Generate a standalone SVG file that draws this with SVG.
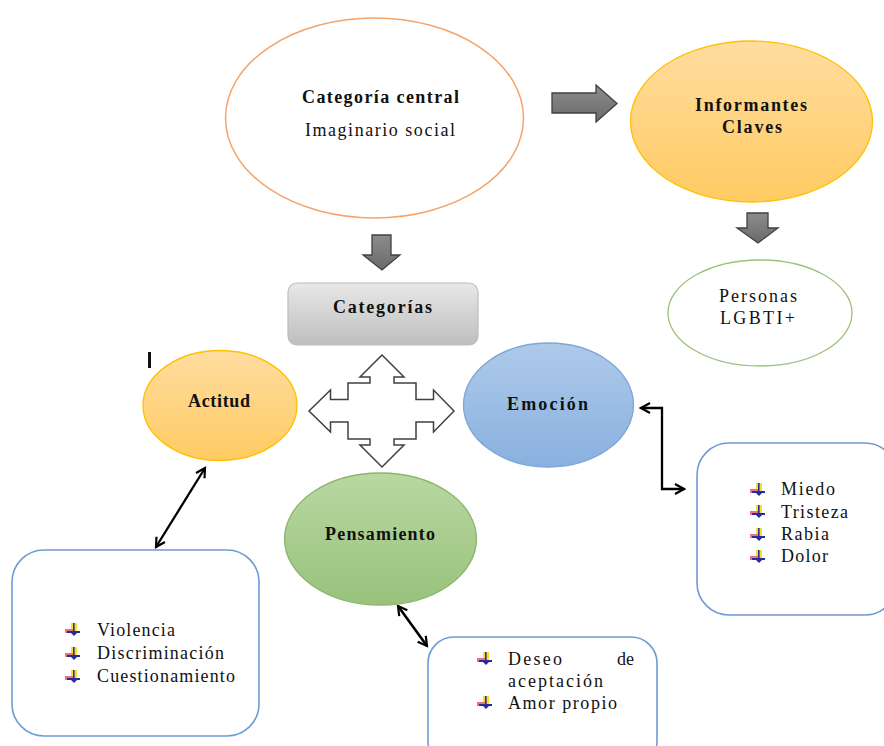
<svg xmlns="http://www.w3.org/2000/svg" width="884" height="746" viewBox="0 0 884 746">
<style>
.t{font-family:"Liberation Serif","Times New Roman",serif;fill:#111;}
.b{font-weight:bold;font-size:18px;}
.r{font-size:18px;}
.blk{fill:url(#gGray);stroke:#404040;stroke-width:1.3;}
.con{fill:none;stroke:#000;stroke-width:2.3;marker-start:url(#ah);marker-end:url(#ah);}
.box{fill:#fff;stroke:#6F9AD4;stroke-width:1.6;}
</style>
<defs>
<linearGradient id="gOr" x1="0" y1="0" x2="0" y2="1"><stop offset="0" stop-color="#FFDDA0"/><stop offset="1" stop-color="#FFCB62"/></linearGradient>
<linearGradient id="gBl" x1="0" y1="0" x2="0" y2="1"><stop offset="0" stop-color="#AECAEA"/><stop offset="1" stop-color="#89B0DF"/></linearGradient>
<linearGradient id="gGr" x1="0" y1="0" x2="0" y2="1"><stop offset="0" stop-color="#B9D8A2"/><stop offset="1" stop-color="#98C27C"/></linearGradient>
<linearGradient id="gBox" x1="0" y1="0" x2="0" y2="1"><stop offset="0" stop-color="#E8E8E8"/><stop offset="1" stop-color="#BEBEBE"/></linearGradient>
<linearGradient id="gGray" x1="0" y1="0" x2="0" y2="1"><stop offset="0" stop-color="#8C8C8C"/><stop offset="1" stop-color="#6A6A6A"/></linearGradient>
<marker id="ah" viewBox="0 0 12 12" refX="10" refY="6" markerWidth="12" markerHeight="12" markerUnits="userSpaceOnUse" orient="auto-start-reverse">
<path d="M1,1 L10,6 L1,11" fill="none" stroke="#000" stroke-width="2.2"/>
</marker>
<symbol id="bul" viewBox="0 0 16 14" width="16" height="14">
<rect x="6" y="0" width="6" height="8" fill="#F2E12A"/>
<rect x="0" y="6" width="8" height="4" fill="#F07080"/>
<rect x="8" y="0" width="1.6" height="9" fill="#2A2A9A"/>
<rect x="2" y="8" width="13" height="2" fill="#2A2A9A"/>
<path d="M5,9 L13,9 L9,13 Z" fill="#2A2A9A"/>
</symbol>
</defs>

<g id="connectors">
<polygon class="blk" points="552,93 596,93 596,85 617,103.5 596,122 596,113 552,113"/>
<polygon class="blk" points="372,235 391,235 391,255 400,255 382,270 363,255 372,255"/>
<polygon class="blk" points="747,213 768,213 768,228 778,228 758,243 737,228 747,228"/>
<path class="con" d="M205,468 L156,547"/>
<path class="con" d="M641,408 H662 V489 H684"/>
<path class="con" style="stroke-width:2.6" d="M398,606 L427,646"/>
</g>

<g id="central">
<ellipse cx="374.5" cy="118" rx="149" ry="100" fill="#fff" stroke="#F4A46A" stroke-width="1.5"/>
<text class="t b" x="302" y="103" textLength="157" lengthAdjust="spacing">Categoría central</text>
<text class="t r" x="305" y="136" textLength="150" lengthAdjust="spacing">Imaginario social</text>
</g>

<g id="informantes">
<ellipse cx="751.5" cy="121.5" rx="121" ry="80.5" fill="url(#gOr)" stroke="#FFC000" stroke-width="1.3"/>
<text class="t b" x="695" y="111" textLength="112" lengthAdjust="spacing">Informantes</text>
<text class="t b" x="722" y="133" textLength="60" lengthAdjust="spacing">Claves</text>
</g>

<g id="personas">
<ellipse cx="760" cy="313" rx="92" ry="53" fill="#fff" stroke="#9BC27A" stroke-width="1.3"/>
<text class="t r" x="719" y="302" textLength="78" lengthAdjust="spacing">Personas</text>
<text class="t r" x="720" y="324" textLength="75" lengthAdjust="spacing">LGBTI+</text>
</g>

<g id="categorias">
<rect x="288" y="283" width="190" height="62" rx="9" fill="url(#gBox)" stroke="#BDBDBD" stroke-width="1.2"/>
<text class="t b" x="333" y="313" textLength="99" lengthAdjust="spacing">Categorías</text>
</g>

<g id="quad-arrow">
<polygon fill="#fff" stroke="#404040" stroke-width="1.5" stroke-linejoin="miter" points="382,355 404,377 394,377 394,383 416,383 416,399.5 433.5,399.5 433.5,390 454,411 433.5,432 433.5,422 416,422 416,439 394,439 394,445 404,445 382,467 360,445 370,445 370,439 348,439 348,422 330.5,422 330.5,432 309,411 330.5,390 330.5,399.5 348,399.5 348,383 370,383 370,377 360,377"/>
</g>

<g id="cursor">
<rect x="148" y="352" width="3" height="16" fill="#111"/>
</g>

<g id="actitud">
<ellipse cx="220" cy="405.5" rx="77" ry="55" fill="url(#gOr)" stroke="#FFC000" stroke-width="1.3"/>
<text class="t b" x="188" y="407" textLength="62" lengthAdjust="spacing">Actitud</text>
</g>

<g id="emocion">
<ellipse cx="548.5" cy="405" rx="85" ry="62" fill="url(#gBl)" stroke="#7EA6D6" stroke-width="1.3"/>
<text class="t b" x="507" y="410" textLength="81" lengthAdjust="spacing">Emoción</text>
</g>

<g id="pensamiento">
<ellipse cx="380.5" cy="539" rx="96" ry="66" fill="url(#gGr)" stroke="#8AB56A" stroke-width="1.3"/>
<text class="t b" x="325" y="540" textLength="110" lengthAdjust="spacing">Pensamiento</text>
</g>

<g id="actitud-list">
<rect class="box" x="12" y="550" width="247" height="186" rx="32"/>
<use href="#bul" x="65" y="623"/>
<use href="#bul" x="65" y="647"/>
<use href="#bul" x="65" y="670"/>
<text class="t r" x="97" y="636" textLength="78" lengthAdjust="spacing">Violencia</text>
<text class="t r" x="97" y="659" textLength="127" lengthAdjust="spacing">Discriminación</text>
<text class="t r" x="97" y="682" textLength="138" lengthAdjust="spacing">Cuestionamiento</text>
</g>

<g id="emocion-list">
<rect class="box" x="697" y="443" width="200" height="172" rx="32"/>
<use href="#bul" x="750" y="483"/>
<use href="#bul" x="750" y="505"/>
<use href="#bul" x="750" y="528"/>
<use href="#bul" x="750" y="550"/>
<text class="t r" x="781" y="495" textLength="54" lengthAdjust="spacing">Miedo</text>
<text class="t r" x="781" y="518" textLength="67" lengthAdjust="spacing">Tristeza</text>
<text class="t r" x="781" y="540" textLength="48" lengthAdjust="spacing">Rabia</text>
<text class="t r" x="781" y="562" textLength="47" lengthAdjust="spacing">Dolor</text>
</g>

<g id="pensamiento-list">
<rect class="box" x="428" y="637" width="229" height="130" rx="26"/>
<use href="#bul" x="477" y="652"/>
<use href="#bul" x="477" y="696"/>
<text class="t r" x="508" y="665" textLength="54" lengthAdjust="spacing">Deseo</text>
<text class="t r" x="617" y="665">de</text>
<text class="t r" x="508" y="687" textLength="95" lengthAdjust="spacing">aceptación</text>
<text class="t r" x="508" y="709" textLength="109" lengthAdjust="spacing">Amor propio</text>
</g>
</svg>
